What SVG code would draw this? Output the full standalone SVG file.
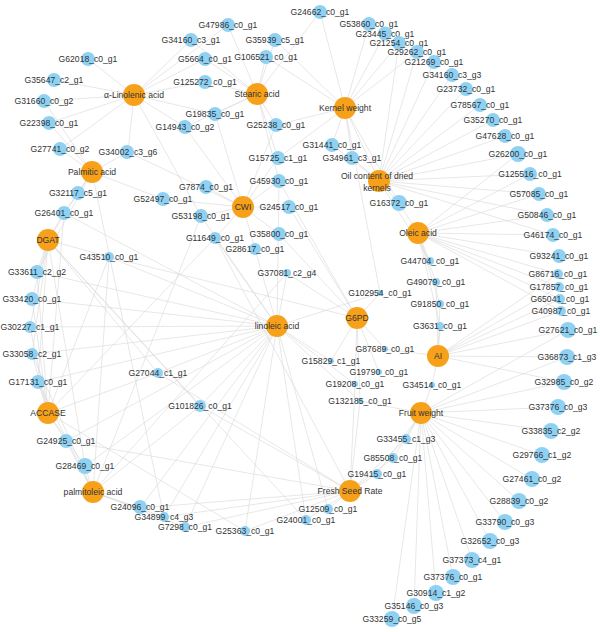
<svg xmlns="http://www.w3.org/2000/svg" width="600" height="632" viewBox="0 0 600 632">
<style>
.e{stroke:#d6d6d6;stroke-width:0.8;stroke-opacity:0.75}
.t circle{fill:#f7a11a}
.g circle{fill:#8fd1f3}
text{font-family:"Liberation Sans",Arial,sans-serif;font-size:8.6px;fill:#333;text-anchor:middle;dominant-baseline:central}
</style>
<rect width="600" height="632" fill="#fff"/>
<g id="edges">
<line class="e" x1="257" y1="94" x2="228" y2="25"/><line class="e" x1="257" y1="94" x2="191" y2="40"/><line class="e" x1="257" y1="94" x2="275" y2="40"/><line class="e" x1="257" y1="94" x2="205" y2="59"/><line class="e" x1="257" y1="94" x2="266" y2="57"/><line class="e" x1="257" y1="94" x2="205" y2="82"/><line class="e" x1="257" y1="94" x2="215" y2="114"/><line class="e" x1="257" y1="94" x2="185" y2="127"/><line class="e" x1="257" y1="94" x2="276" y2="125"/><line class="e" x1="257" y1="94" x2="320" y2="12"/><line class="e" x1="257" y1="94" x2="278" y2="158"/><line class="e" x1="257" y1="94" x2="279" y2="181"/>
<line class="e" x1="134" y1="95" x2="88" y2="59"/><line class="e" x1="134" y1="95" x2="54" y2="80"/><line class="e" x1="134" y1="95" x2="44" y2="101"/><line class="e" x1="134" y1="95" x2="49" y2="123"/><line class="e" x1="134" y1="95" x2="60" y2="149"/><line class="e" x1="134" y1="95" x2="205" y2="82"/><line class="e" x1="134" y1="95" x2="215" y2="114"/><line class="e" x1="134" y1="95" x2="128" y2="152"/><line class="e" x1="134" y1="95" x2="185" y2="127"/><line class="e" x1="134" y1="95" x2="205" y2="59"/><line class="e" x1="134" y1="95" x2="228" y2="25"/><line class="e" x1="134" y1="95" x2="191" y2="40"/><line class="e" x1="134" y1="95" x2="201" y2="216"/>
<line class="e" x1="345" y1="108" x2="320" y2="12"/><line class="e" x1="345" y1="108" x2="369" y2="24"/><line class="e" x1="345" y1="108" x2="385" y2="33.5"/><line class="e" x1="345" y1="108" x2="399" y2="43"/><line class="e" x1="345" y1="108" x2="417" y2="52"/><line class="e" x1="345" y1="108" x2="332" y2="145"/><line class="e" x1="345" y1="108" x2="352" y2="158"/><line class="e" x1="345" y1="108" x2="276" y2="125"/><line class="e" x1="345" y1="108" x2="266" y2="57"/><line class="e" x1="345" y1="108" x2="275" y2="40"/><line class="e" x1="345" y1="108" x2="278" y2="158"/><line class="e" x1="345" y1="108" x2="379" y2="181"/><line class="e" x1="345" y1="108" x2="380" y2="293"/><line class="e" x1="345" y1="108" x2="399" y2="203"/>
<line class="e" x1="379" y1="181" x2="434" y2="62"/><line class="e" x1="379" y1="181" x2="452" y2="75"/><line class="e" x1="379" y1="181" x2="466" y2="89"/><line class="e" x1="379" y1="181" x2="480" y2="105"/><line class="e" x1="379" y1="181" x2="493" y2="120"/><line class="e" x1="379" y1="181" x2="505" y2="136"/><line class="e" x1="379" y1="181" x2="518" y2="154"/><line class="e" x1="379" y1="181" x2="530" y2="174"/><line class="e" x1="379" y1="181" x2="539" y2="194"/><line class="e" x1="379" y1="181" x2="547" y2="215"/><line class="e" x1="379" y1="181" x2="553" y2="235"/><line class="e" x1="379" y1="181" x2="399" y2="203"/><line class="e" x1="379" y1="181" x2="332" y2="145"/><line class="e" x1="379" y1="181" x2="352" y2="158"/><line class="e" x1="379" y1="181" x2="417" y2="52"/><line class="e" x1="379" y1="181" x2="399" y2="43"/><line class="e" x1="379" y1="181" x2="430" y2="261"/>
<line class="e" x1="418" y1="233" x2="530" y2="174"/><line class="e" x1="418" y1="233" x2="539" y2="194"/><line class="e" x1="418" y1="233" x2="547" y2="215"/><line class="e" x1="418" y1="233" x2="553" y2="235"/><line class="e" x1="418" y1="233" x2="559" y2="256"/><line class="e" x1="418" y1="233" x2="558" y2="274"/><line class="e" x1="418" y1="233" x2="559" y2="287"/><line class="e" x1="418" y1="233" x2="560" y2="299"/><line class="e" x1="418" y1="233" x2="561" y2="311"/><line class="e" x1="418" y1="233" x2="430" y2="261"/><line class="e" x1="418" y1="233" x2="436" y2="282"/><line class="e" x1="418" y1="233" x2="440" y2="304"/><line class="e" x1="418" y1="233" x2="440" y2="326"/><line class="e" x1="418" y1="233" x2="399" y2="203"/><line class="e" x1="418" y1="233" x2="518" y2="154"/>
<line class="e" x1="438" y1="356" x2="568" y2="330"/><line class="e" x1="438" y1="356" x2="567" y2="357"/><line class="e" x1="438" y1="356" x2="564" y2="382"/><line class="e" x1="438" y1="356" x2="432" y2="385"/><line class="e" x1="438" y1="356" x2="440" y2="326"/><line class="e" x1="438" y1="356" x2="561" y2="311"/><line class="e" x1="438" y1="356" x2="560" y2="299"/><line class="e" x1="438" y1="356" x2="559" y2="287"/><line class="e" x1="438" y1="356" x2="558" y2="274"/><line class="e" x1="438" y1="356" x2="440" y2="304"/><line class="e" x1="438" y1="356" x2="436" y2="282"/><line class="e" x1="438" y1="356" x2="385" y2="349"/>
<line class="e" x1="421" y1="413" x2="558" y2="407"/><line class="e" x1="421" y1="413" x2="551" y2="431"/><line class="e" x1="421" y1="413" x2="542" y2="455"/><line class="e" x1="421" y1="413" x2="532" y2="479"/><line class="e" x1="421" y1="413" x2="519" y2="501"/><line class="e" x1="421" y1="413" x2="505" y2="522"/><line class="e" x1="421" y1="413" x2="490" y2="541"/><line class="e" x1="421" y1="413" x2="472" y2="560"/><line class="e" x1="421" y1="413" x2="453" y2="577"/><line class="e" x1="421" y1="413" x2="436" y2="593"/><line class="e" x1="421" y1="413" x2="414" y2="606"/><line class="e" x1="421" y1="413" x2="392" y2="619"/><line class="e" x1="421" y1="413" x2="406" y2="439"/><line class="e" x1="421" y1="413" x2="393" y2="458"/><line class="e" x1="421" y1="413" x2="377" y2="474"/><line class="e" x1="421" y1="413" x2="432" y2="385"/><line class="e" x1="421" y1="413" x2="564" y2="382"/><line class="e" x1="421" y1="413" x2="567" y2="357"/><line class="e" x1="421" y1="413" x2="568" y2="330"/><line class="e" x1="421" y1="413" x2="360" y2="401"/>
<line class="e" x1="357" y1="318" x2="380" y2="293"/><line class="e" x1="357" y1="318" x2="385" y2="349"/><line class="e" x1="357" y1="318" x2="331" y2="361"/><line class="e" x1="357" y1="318" x2="379" y2="372"/><line class="e" x1="357" y1="318" x2="355" y2="384"/><line class="e" x1="357" y1="318" x2="360" y2="401"/><line class="e" x1="357" y1="318" x2="287" y2="273"/><line class="e" x1="357" y1="318" x2="279" y2="234"/><line class="e" x1="357" y1="318" x2="289" y2="207"/><line class="e" x1="357" y1="318" x2="279" y2="181"/><line class="e" x1="357" y1="318" x2="109" y2="257"/>
<line class="e" x1="350" y1="491" x2="377" y2="474"/><line class="e" x1="350" y1="491" x2="393" y2="458"/><line class="e" x1="350" y1="491" x2="406" y2="439"/><line class="e" x1="350" y1="491" x2="328" y2="509"/><line class="e" x1="350" y1="491" x2="306" y2="520"/><line class="e" x1="350" y1="491" x2="245" y2="531"/><line class="e" x1="350" y1="491" x2="185" y2="527"/><line class="e" x1="350" y1="491" x2="164" y2="517"/><line class="e" x1="350" y1="491" x2="140" y2="508"/><line class="e" x1="350" y1="491" x2="360" y2="401"/><line class="e" x1="350" y1="491" x2="355" y2="384"/><line class="e" x1="350" y1="491" x2="200" y2="406"/><line class="e" x1="350" y1="491" x2="158" y2="373"/><line class="e" x1="350" y1="491" x2="66" y2="441"/><line class="e" x1="350" y1="491" x2="215" y2="238"/>
<line class="e" x1="93" y1="492" x2="85" y2="466"/><line class="e" x1="93" y1="492" x2="66" y2="441"/><line class="e" x1="93" y1="492" x2="140" y2="508"/><line class="e" x1="93" y1="492" x2="164" y2="517"/><line class="e" x1="93" y1="492" x2="185" y2="527"/><line class="e" x1="93" y1="492" x2="38" y2="382"/><line class="e" x1="93" y1="492" x2="32" y2="354"/><line class="e" x1="93" y1="492" x2="200" y2="406"/><line class="e" x1="93" y1="492" x2="109" y2="257"/><line class="e" x1="93" y1="492" x2="201" y2="216"/><line class="e" x1="93" y1="492" x2="287" y2="273"/>
<line class="e" x1="48" y1="413" x2="38" y2="382"/><line class="e" x1="48" y1="413" x2="32" y2="354"/><line class="e" x1="48" y1="413" x2="30" y2="327"/><line class="e" x1="48" y1="413" x2="32" y2="299"/><line class="e" x1="48" y1="413" x2="37" y2="272"/><line class="e" x1="48" y1="413" x2="66" y2="441"/><line class="e" x1="48" y1="413" x2="85" y2="466"/><line class="e" x1="48" y1="413" x2="64" y2="213"/><line class="e" x1="48" y1="413" x2="109" y2="257"/><line class="e" x1="48" y1="413" x2="158" y2="373"/><line class="e" x1="48" y1="413" x2="215" y2="238"/><line class="e" x1="48" y1="413" x2="245" y2="531"/>
<line class="e" x1="48" y1="240" x2="64" y2="213"/><line class="e" x1="48" y1="240" x2="37" y2="272"/><line class="e" x1="48" y1="240" x2="32" y2="299"/><line class="e" x1="48" y1="240" x2="30" y2="327"/><line class="e" x1="48" y1="240" x2="32" y2="354"/><line class="e" x1="48" y1="240" x2="38" y2="382"/><line class="e" x1="48" y1="240" x2="109" y2="257"/><line class="e" x1="48" y1="240" x2="78" y2="193"/><line class="e" x1="48" y1="240" x2="158" y2="373"/><line class="e" x1="48" y1="240" x2="306" y2="520"/><line class="e" x1="48" y1="240" x2="85" y2="466"/><line class="e" x1="48" y1="240" x2="200" y2="406"/>
<line class="e" x1="92" y1="172" x2="60" y2="149"/><line class="e" x1="92" y1="172" x2="78" y2="193"/><line class="e" x1="92" y1="172" x2="128" y2="152"/><line class="e" x1="92" y1="172" x2="64" y2="213"/><line class="e" x1="92" y1="172" x2="49" y2="123"/><line class="e" x1="92" y1="172" x2="163" y2="199"/><line class="e" x1="92" y1="172" x2="44" y2="101"/><line class="e" x1="92" y1="172" x2="37" y2="272"/><line class="e" x1="92" y1="172" x2="164" y2="517"/>
<line class="e" x1="243" y1="207" x2="206" y2="187"/><line class="e" x1="243" y1="207" x2="163" y2="199"/><line class="e" x1="243" y1="207" x2="201" y2="216"/><line class="e" x1="243" y1="207" x2="215" y2="238"/><line class="e" x1="243" y1="207" x2="289" y2="207"/><line class="e" x1="243" y1="207" x2="279" y2="181"/><line class="e" x1="243" y1="207" x2="278" y2="158"/><line class="e" x1="243" y1="207" x2="279" y2="234"/><line class="e" x1="243" y1="207" x2="255" y2="249"/><line class="e" x1="243" y1="207" x2="128" y2="152"/><line class="e" x1="243" y1="207" x2="185" y2="127"/><line class="e" x1="243" y1="207" x2="215" y2="114"/><line class="e" x1="243" y1="207" x2="276" y2="125"/>
<line class="e" x1="277" y1="326" x2="287" y2="273"/><line class="e" x1="277" y1="326" x2="255" y2="249"/><line class="e" x1="277" y1="326" x2="215" y2="238"/><line class="e" x1="277" y1="326" x2="201" y2="216"/><line class="e" x1="277" y1="326" x2="109" y2="257"/><line class="e" x1="277" y1="326" x2="158" y2="373"/><line class="e" x1="277" y1="326" x2="200" y2="406"/><line class="e" x1="277" y1="326" x2="331" y2="361"/><line class="e" x1="277" y1="326" x2="355" y2="384"/><line class="e" x1="277" y1="326" x2="306" y2="520"/><line class="e" x1="277" y1="326" x2="328" y2="509"/><line class="e" x1="277" y1="326" x2="245" y2="531"/><line class="e" x1="277" y1="326" x2="185" y2="527"/><line class="e" x1="277" y1="326" x2="164" y2="517"/><line class="e" x1="277" y1="326" x2="140" y2="508"/><line class="e" x1="277" y1="326" x2="37" y2="272"/><line class="e" x1="277" y1="326" x2="32" y2="299"/><line class="e" x1="277" y1="326" x2="30" y2="327"/><line class="e" x1="277" y1="326" x2="32" y2="354"/><line class="e" x1="277" y1="326" x2="38" y2="382"/><line class="e" x1="277" y1="326" x2="64" y2="213"/><line class="e" x1="277" y1="326" x2="85" y2="466"/><line class="e" x1="277" y1="326" x2="66" y2="441"/><line class="e" x1="277" y1="326" x2="380" y2="293"/><line class="e" x1="277" y1="326" x2="360" y2="401"/><line class="e" x1="277" y1="326" x2="279" y2="181"/>
</g>
<g id="t-alpha" class="t"><circle cx="134" cy="95" r="11"/><text x="134" y="95">α-Linolenic acid</text></g>
<g id="t-stearic" class="t"><circle cx="257" cy="94" r="11"/><text x="257" y="94">Stearic acid</text></g>
<g id="t-kernel" class="t"><circle cx="345" cy="108" r="11"/><text x="345" y="108">Kernel weight</text></g>
<g id="t-palmitic" class="t"><circle cx="92" cy="172" r="11"/><text x="92" y="172">Palmitic acid</text></g>
<g id="t-cwi" class="t"><circle cx="243" cy="207" r="11"/><text x="243" y="207">CWI</text></g>
<g id="t-oil" class="t"><circle cx="379" cy="181" r="11"/><text x="377" y="176">Oil content of dried</text><text x="377" y="188">kernels</text></g>
<g id="t-dgat" class="t"><circle cx="48" cy="240" r="11"/><text x="48" y="240">DGAT</text></g>
<g id="t-oleic" class="t"><circle cx="418" cy="233" r="11"/><text x="418" y="233">Oleic acid</text></g>
<g id="t-linoleic" class="t"><circle cx="277" cy="326" r="11"/><text x="277" y="326">linoleic acid</text></g>
<g id="t-g6pd" class="t"><circle cx="357" cy="318" r="11"/><text x="357" y="318">G6PD</text></g>
<g id="t-ai" class="t"><circle cx="438" cy="356" r="11"/><text x="438" y="356">AI</text></g>
<g id="t-fruit" class="t"><circle cx="421" cy="413" r="11"/><text x="421" y="413">Fruit weight</text></g>
<g id="t-accase" class="t"><circle cx="48" cy="413" r="11"/><text x="48" y="413">ACCASE</text></g>
<g id="t-palmitoleic" class="t"><circle cx="93" cy="492" r="11"/><text x="93" y="492">palmitoleic acid</text></g>
<g id="t-fsr" class="t"><circle cx="350" cy="491" r="11"/><text x="350" y="491">Fresh Seed Rate</text></g>
<g id="G24662_c0_g1" class="g"><circle cx="320" cy="12" r="7"/><text x="320" y="12">G24662_c0_g1</text></g>
<g id="G47986_c0_g1" class="g"><circle cx="228" cy="25" r="7"/><text x="228" y="25">G47986_c0_g1</text></g>
<g id="G34160_c3_g1" class="g"><circle cx="191" cy="40" r="7"/><text x="191" y="40">G34160_c3_g1</text></g>
<g id="G35939_c5_g1" class="g"><circle cx="275" cy="40" r="7"/><text x="275" y="40">G35939_c5_g1</text></g>
<g id="G5664_c0_g1" class="g"><circle cx="205" cy="59" r="7"/><text x="205" y="59">G5664_c0_g1</text></g>
<g id="G106521_c0_g1" class="g"><circle cx="266" cy="57" r="7"/><text x="266" y="57">G106521_c0_g1</text></g>
<g id="G125272_c0_g1" class="g"><circle cx="205" cy="82" r="7"/><text x="205" y="82">G125272_c0_g1</text></g>
<g id="G19835_c0_g1" class="g"><circle cx="215" cy="114" r="7"/><text x="215" y="114">G19835_c0_g1</text></g>
<g id="G14943_c0_g2" class="g"><circle cx="185" cy="127" r="7"/><text x="185" y="127">G14943_c0_g2</text></g>
<g id="G25238_c0_g1" class="g"><circle cx="276" cy="125" r="7"/><text x="276" y="125">G25238_c0_g1</text></g>
<g id="G62018_c0_g1" class="g"><circle cx="88" cy="59" r="7"/><text x="88" y="59">G62018_c0_g1</text></g>
<g id="G35647_c2_g1" class="g"><circle cx="54" cy="80" r="7"/><text x="54" y="80">G35647_c2_g1</text></g>
<g id="G31660_c0_g2" class="g"><circle cx="44" cy="101" r="7"/><text x="44" y="101">G31660_c0_g2</text></g>
<g id="G22398_c0_g1" class="g"><circle cx="49" cy="123" r="7"/><text x="49" y="123">G22398_c0_g1</text></g>
<g id="G27741_c0_g2" class="g"><circle cx="60" cy="149" r="7"/><text x="60" y="149">G27741_c0_g2</text></g>
<g id="G34002_c3_g6" class="g"><circle cx="127" cy="152" r="7"/><text x="128" y="152">G34002_c3_g6</text></g>
<g id="G32117_c5_g1" class="g"><circle cx="78" cy="193" r="7"/><text x="78" y="193">G32117_c5_g1</text></g>
<g id="G26401_c0_g1" class="g"><circle cx="64" cy="213" r="7"/><text x="64" y="213">G26401_c0_g1</text></g>
<g id="G52497_c0_g1" class="g"><circle cx="163" cy="199" r="7"/><text x="163" y="199">G52497_c0_g1</text></g>
<g id="G7874_c0_g1" class="g"><circle cx="206" cy="187" r="7"/><text x="206" y="187">G7874_c0_g1</text></g>
<g id="G53198_c0_g1" class="g"><circle cx="201" cy="216" r="7"/><text x="201" y="216">G53198_c0_g1</text></g>
<g id="G24517_c0_g1" class="g"><circle cx="289" cy="207" r="7"/><text x="289" y="207">G24517_c0_g1</text></g>
<g id="G15725_c1_g1" class="g"><circle cx="278" cy="158" r="7"/><text x="278" y="158">G15725_c1_g1</text></g>
<g id="G45930_c0_g1" class="g"><circle cx="279" cy="181" r="7"/><text x="279" y="181">G45930_c0_g1</text></g>
<g id="G31441_c0_g1" class="g"><circle cx="332" cy="145" r="7"/><text x="332" y="145">G31441_c0_g1</text></g>
<g id="G34961_c3_g1" class="g"><circle cx="352" cy="158" r="7"/><text x="352" y="158">G34961_c3_g1</text></g>
<g id="G53860_c0_g1" class="g"><circle cx="369" cy="24" r="7"/><text x="369" y="24">G53860_c0_g1</text></g>
<g id="G23445_c0_g1" class="g"><circle cx="385" cy="33.5" r="7"/><text x="385" y="33.5">G23445_c0_g1</text></g>
<g id="G21254_c0_g1" class="g"><circle cx="399" cy="43" r="7"/><text x="399" y="43">G21254_c0_g1</text></g>
<g id="G29262_c0_g1" class="g"><circle cx="417" cy="52" r="7"/><text x="417" y="52">G29262_c0_g1</text></g>
<g id="G21269_c0_g1" class="g"><circle cx="434" cy="62" r="7"/><text x="434" y="62">G21269_c0_g1</text></g>
<g id="G34160_c3_g3" class="g"><circle cx="452" cy="75" r="7"/><text x="452" y="75">G34160_c3_g3</text></g>
<g id="G23732_c0_g1" class="g"><circle cx="466" cy="89" r="7"/><text x="466" y="89">G23732_c0_g1</text></g>
<g id="G78567_c0_g1" class="g"><circle cx="480" cy="105" r="7"/><text x="480" y="105">G78567_c0_g1</text></g>
<g id="G35270_c0_g1" class="g"><circle cx="493" cy="120" r="7"/><text x="493" y="120">G35270_c0_g1</text></g>
<g id="G47628_c0_g1" class="g"><circle cx="505" cy="136" r="7"/><text x="505" y="136">G47628_c0_g1</text></g>
<g id="G26200_c0_g1" class="g"><circle cx="518" cy="154" r="8"/><text x="518" y="154">G26200_c0_g1</text></g>
<g id="G125516_c0_g1" class="g"><circle cx="530" cy="174" r="7"/><text x="530" y="174">G125516_c0_g1</text></g>
<g id="G57085_c0_g1" class="g"><circle cx="539" cy="194" r="7"/><text x="539" y="194">G57085_c0_g1</text></g>
<g id="G50846_c0_g1" class="g"><circle cx="547" cy="215" r="7"/><text x="547" y="215">G50846_c0_g1</text></g>
<g id="G46174_c0_g1" class="g"><circle cx="553" cy="235" r="7"/><text x="553" y="235">G46174_c0_g1</text></g>
<g id="G93241_c0_g1" class="g"><circle cx="559" cy="256" r="7"/><text x="559" y="256">G93241_c0_g1</text></g>
<g id="G86716_c0_g1" class="g"><circle cx="558" cy="274" r="5"/><text x="558" y="274">G86716_c0_g1</text></g>
<g id="G17857_c0_g1" class="g"><circle cx="559" cy="287" r="5"/><text x="559" y="287">G17857_c0_g1</text></g>
<g id="G65041_c0_g1" class="g"><circle cx="560" cy="299" r="5"/><text x="560" y="299">G65041_c0_g1</text></g>
<g id="G40987_c0_g1" class="g"><circle cx="561" cy="311" r="5"/><text x="561" y="311">G40987_c0_g1</text></g>
<g id="G27621_c0_g1" class="g"><circle cx="568" cy="330" r="8"/><text x="568" y="330">G27621_c0_g1</text></g>
<g id="G36873_c1_g3" class="g"><circle cx="567" cy="357" r="8"/><text x="567" y="357">G36873_c1_g3</text></g>
<g id="G32985_c0_g2" class="g"><circle cx="564" cy="382" r="8"/><text x="564" y="382">G32985_c0_g2</text></g>
<g id="G37376_c0_g3" class="g"><circle cx="558" cy="407" r="8"/><text x="558" y="407">G37376_c0_g3</text></g>
<g id="G33835_c2_g2" class="g"><circle cx="551" cy="431" r="8"/><text x="551" y="431">G33835_c2_g2</text></g>
<g id="G29766_c1_g2" class="g"><circle cx="542" cy="455" r="8"/><text x="542" y="455">G29766_c1_g2</text></g>
<g id="G27461_c0_g2" class="g"><circle cx="532" cy="479" r="8"/><text x="532" y="479">G27461_c0_g2</text></g>
<g id="G28839_c0_g2" class="g"><circle cx="519" cy="501" r="8"/><text x="519" y="501">G28839_c0_g2</text></g>
<g id="G33790_c0_g3" class="g"><circle cx="505" cy="522" r="8"/><text x="505" y="522">G33790_c0_g3</text></g>
<g id="G32652_c0_g3" class="g"><circle cx="490" cy="541" r="8"/><text x="490" y="541">G32652_c0_g3</text></g>
<g id="G37373_c4_g1" class="g"><circle cx="472" cy="560" r="8"/><text x="472" y="560">G37373_c4_g1</text></g>
<g id="G37376_c0_g1" class="g"><circle cx="453" cy="577" r="8"/><text x="453" y="577">G37376_c0_g1</text></g>
<g id="G30914_c1_g2" class="g"><circle cx="436" cy="593" r="8"/><text x="436" y="593">G30914_c1_g2</text></g>
<g id="G35146_c0_g3" class="g"><circle cx="414" cy="606" r="8"/><text x="414" y="606">G35146_c0_g3</text></g>
<g id="G33259_c0_g5" class="g"><circle cx="392" cy="619" r="8"/><text x="392" y="619">G33259_c0_g5</text></g>
<g id="G33455_c1_g3" class="g"><circle cx="406" cy="439" r="5"/><text x="406" y="439">G33455_c1_g3</text></g>
<g id="G85508_c0_g1" class="g"><circle cx="393" cy="458" r="5"/><text x="393" y="458">G85508_c0_g1</text></g>
<g id="G19415_c0_g1" class="g"><circle cx="377" cy="474" r="5"/><text x="377" y="474">G19415_c0_g1</text></g>
<g id="G12509_c0_g1" class="g"><circle cx="328" cy="509" r="5"/><text x="328" y="509">G12509_c0_g1</text></g>
<g id="G24001_c0_g1" class="g"><circle cx="306" cy="520" r="5"/><text x="306" y="520">G24001_c0_g1</text></g>
<g id="G25363_c0_g1" class="g"><circle cx="245" cy="531" r="5"/><text x="245" y="531">G25363_c0_g1</text></g>
<g id="G7298_c0_g1" class="g"><circle cx="185" cy="527" r="5"/><text x="185" y="527">G7298_c0_g1</text></g>
<g id="G34899_c4_g3" class="g"><circle cx="164" cy="517" r="5"/><text x="164" y="517">G34899_c4_g3</text></g>
<g id="G24096_c0_g1" class="g"><circle cx="140" cy="507" r="7"/><text x="140" y="507">G24096_c0_g1</text></g>
<g id="G24925_c0_g1" class="g"><circle cx="66" cy="441" r="7"/><text x="66" y="441">G24925_c0_g1</text></g>
<g id="G28469_c0_g1" class="g"><circle cx="85" cy="466" r="8"/><text x="85" y="466">G28469_c0_g1</text></g>
<g id="G33611_c2_g2" class="g"><circle cx="37" cy="272" r="7"/><text x="37" y="272">G33611_c2_g2</text></g>
<g id="G43510_c0_g1" class="g"><circle cx="109" cy="257" r="5"/><text x="109" y="257">G43510_c0_g1</text></g>
<g id="G33420_c0_g1" class="g"><circle cx="32" cy="299" r="7"/><text x="32" y="299">G33420_c0_g1</text></g>
<g id="G30227_c1_g1" class="g"><circle cx="30" cy="327" r="6"/><text x="30" y="327">G30227_c1_g1</text></g>
<g id="G33058_c2_g1" class="g"><circle cx="32" cy="354" r="6"/><text x="32" y="354">G33058_c2_g1</text></g>
<g id="G17131_c0_g1" class="g"><circle cx="38" cy="382" r="7"/><text x="38" y="382">G17131_c0_g1</text></g>
<g id="G27044_c1_g1" class="g"><circle cx="158" cy="373" r="5"/><text x="158" y="373">G27044_c1_g1</text></g>
<g id="G101826_c0_g1" class="g"><circle cx="200" cy="406" r="6"/><text x="200" y="406">G101826_c0_g1</text></g>
<g id="G11649_c0_g1" class="g"><circle cx="215" cy="238" r="6"/><text x="215" y="238">G11649_c0_g1</text></g>
<g id="G35800_c0_g1" class="g"><circle cx="279" cy="234" r="7"/><text x="279" y="234">G35800_c0_g1</text></g>
<g id="G28617_c0_g1" class="g"><circle cx="255" cy="249" r="6"/><text x="255" y="249">G28617_c0_g1</text></g>
<g id="G37081_c2_g4" class="g"><circle cx="287" cy="273" r="4"/><text x="287" y="273">G37081_c2_g4</text></g>
<g id="G16372_c0_g1" class="g"><circle cx="399" cy="203" r="8"/><text x="399" y="203">G16372_c0_g1</text></g>
<g id="G44704_c0_g1" class="g"><circle cx="430" cy="261" r="4"/><text x="430" y="261">G44704_c0_g1</text></g>
<g id="G49079_c0_g1" class="g"><circle cx="436" cy="282" r="4"/><text x="436" y="282">G49079_c0_g1</text></g>
<g id="G91850_c0_g1" class="g"><circle cx="440" cy="304" r="4"/><text x="440" y="304">G91850_c0_g1</text></g>
<g id="G3631_c0_g1" class="g"><circle cx="440" cy="326" r="4"/><text x="440" y="326">G3631_c0_g1</text></g>
<g id="G102954_c0_g1" class="g"><circle cx="380" cy="293" r="3"/><text x="380" y="293">G102954_c0_g1</text></g>
<g id="G87689_c0_g1" class="g"><circle cx="385" cy="349" r="3"/><text x="385" y="349">G87689_c0_g1</text></g>
<g id="G15829_c1_g1" class="g"><circle cx="331" cy="361" r="3"/><text x="331" y="361">G15829_c1_g1</text></g>
<g id="G19790_c0_g1" class="g"><circle cx="379" cy="372" r="3"/><text x="379" y="372">G19790_c0_g1</text></g>
<g id="G19208_c0_g1" class="g"><circle cx="355" cy="384" r="3"/><text x="355" y="384">G19208_c0_g1</text></g>
<g id="G34514_c0_g1" class="g"><circle cx="432" cy="385" r="3"/><text x="432" y="385">G34514_c0_g1</text></g>
<g id="G132185_c0_g1" class="g"><circle cx="360" cy="401" r="3"/><text x="360" y="401">G132185_c0_g1</text></g>
</svg>
